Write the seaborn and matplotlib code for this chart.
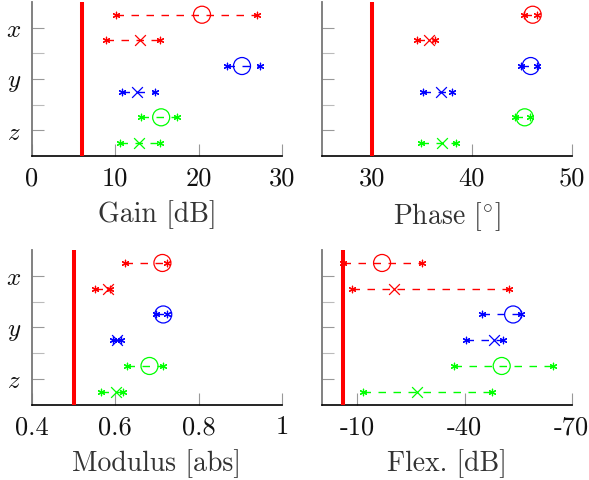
import matplotlib
matplotlib.use("Agg")
import matplotlib.pyplot as plt
import numpy as np
import pandas as pd
import seaborn as sns

sns.set_style("white")
plt.rcParams["font.family"] = ["cmr10"]
plt.rcParams["mathtext.fontset"] = "cm"
plt.rcParams["axes.unicode_minus"] = False
plt.rcParams["axes.formatter.use_mathtext"] = True

# rows from top to bottom
row_pos = [6, 5, 4, 3, 2, 1]
row_colors = ["#ff0000", "#ff0000", "#0000ff", "#0000ff", "#00ff00", "#00ff00"]
row_markers = ["o", "x", "o", "x", "o", "x"]
group_labels = ["$x$", "$y$", "$z$"]

gain_lo = [10.1, 8.9, 23.4, 10.8, 13.1, 10.6]
gain_mid = [20.4, 12.9, 25.2, 12.6, 15.5, 12.8]
gain_hi = [27.0, 15.4, 27.3, 14.8, 17.4, 15.4]

phase_lo = [45.2, 34.5, 44.9, 35.1, 44.3, 34.9]
phase_mid = [46.1, 35.7, 45.9, 36.9, 45.3, 37.0]
phase_hi = [46.5, 36.3, 46.5, 38.0, 45.8, 38.4]

mod_lo = [0.622, 0.552, 0.698, 0.594, 0.627, 0.565]
mod_mid = [0.713, 0.582, 0.715, 0.603, 0.682, 0.602]
mod_hi = [0.723, 0.587, 0.723, 0.613, 0.714, 0.619]

flex_lo = [-6.0, -8.5, -45.0, -40.4, -37.1, -11.6]
flex_mid = [-16.9, -20.3, -53.6, -48.3, -50.4, -26.8]
flex_hi = [-28.2, -52.4, -55.8, -50.8, -64.8, -47.6]

panels = [
    dict(lo=gain_lo, mid=gain_mid, hi=gain_hi, thr=6, xlim=(0, 30),
         ticks=[0, 10, 20, 30], labels=["0", "10", "20", "30"],
         xlabel="Gain [dB]", ylab=True),
    dict(lo=phase_lo, mid=phase_mid, hi=phase_hi, thr=30, xlim=(25, 50),
         ticks=[30, 40, 50], labels=["30", "40", "50"],
         xlabel="Phase [$^{\\circ}$]", ylab=False),
    dict(lo=mod_lo, mid=mod_mid, hi=mod_hi, thr=0.5, xlim=(0.4, 1.0),
         ticks=[0.4, 0.6, 0.8, 1.0], labels=["0.4", "0.6", "0.8", "1"],
         xlabel="Modulus [abs]", ylab=True),
    dict(lo=flex_lo, mid=flex_mid, hi=flex_hi, thr=-6, xlim=(0, -70),
         ticks=[-10, -40, -70], labels=["-10", "-40", "-70"],
         xlabel="Flex. [dB]", ylab=False),
]

fig = plt.figure(figsize=(5.89, 4.81), dpi=100)
W, H = 589.0, 481.0
lefts = [32.0, 321.7]
width = 250.0
rows_px = [(2.9, 156.8), (251.1, 405.6)]

asterisk = (6, 2, 0)
fs_tick = 19
fs_label = 20

for i, p in enumerate(panels):
    r, c = divmod(i, 2)
    top, bot = rows_px[r]
    ax = fig.add_axes([lefts[c] / W, 1 - bot / H, width / W, (bot - top) / H])
    ax.set_facecolor("white")
    for k in range(6):
        df = pd.DataFrame({"value": [p["lo"][k], p["mid"][k], p["hi"][k]],
                           "pos": [row_pos[k]] * 3})
        col = row_colors[k]
        sns.lineplot(data=df, x="value", y="pos", estimator=None, sort=False,
                     orient="y", color=col, lw=1.0, linestyle=(0, (5.4, 5.4)),
                     ax=ax, zorder=2)
        ends = pd.DataFrame({"value": [p["lo"][k], p["hi"][k]],
                             "pos": [row_pos[k]] * 2})
        sns.scatterplot(data=ends, x="value", y="pos", marker=asterisk, s=22,
                        color=col, edgecolor=col, linewidth=0.9, ax=ax, zorder=3)
        mid = pd.DataFrame({"value": [p["mid"][k]], "pos": [row_pos[k]]})
        if row_markers[k] == "o":
            sns.scatterplot(data=mid, x="value", y="pos", marker="o", s=150,
                            facecolor="none", edgecolor=col, linewidth=0.9,
                            ax=ax, zorder=3)
        else:
            sns.scatterplot(data=mid, x="value", y="pos", marker="x", s=60,
                            color=col, linewidth=0.9, ax=ax, zorder=3)
    ax.axvline(p["thr"], color="#ff0000", lw=2.9, zorder=4)
    ax.set_xlim(*p["xlim"])
    ax.set_ylim(0.5, 6.5)
    ax.set_xticks(p["ticks"], labels=p["labels"])
    ax.set_yticks([5.5, 3.5, 1.5])
    ax.set_yticks([4.5, 2.5], minor=True)
    if p["ylab"]:
        ax.set_yticklabels(group_labels)
    else:
        ax.set_yticklabels([])
    ax.set_xlabel(p["xlabel"], fontsize=fs_label, labelpad=7, color="#333333")
    ax.set_ylabel("")
    ax.tick_params(axis="x", which="major", direction="in", length=8.6,
                   width=0.8, color="#999999", labelsize=fs_tick, pad=7,
                   labelcolor="#111111")
    ax.tick_params(axis="y", which="major", direction="in", length=8.6,
                   width=0.8, color="#999999", labelsize=18, pad=8,
                   labelcolor="#111111")
    ax.tick_params(axis="y", which="minor", direction="in", length=8.6,
                   width=0.8, color="#bbbbbb", left=True)
    ax.tick_params(axis="x", bottom=True)
    ax.tick_params(axis="y", left=True)
    for s in ["top", "right"]:
        ax.spines[s].set_visible(False)
    ax.spines["left"].set_color("#777777")
    ax.spines["left"].set_linewidth(1.3)
    ax.spines["bottom"].set_color("#000000")
    ax.spines["bottom"].set_linewidth(1.2)
    ax.grid(False)
    if ax.get_legend():
        ax.get_legend().remove()

fig.savefig("out.png", dpi=100)
